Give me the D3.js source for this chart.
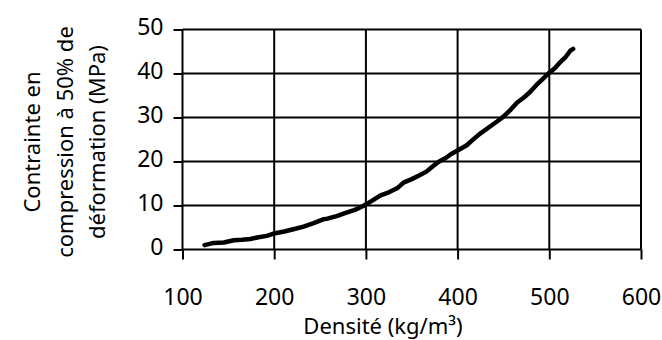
<!DOCTYPE html>
<html>
<head>
<meta charset="utf-8">
<script src="https://cdn.jsdelivr.net/npm/d3@7"></script>
<style>
  body { margin: 0; background: #fff; }
  svg text { font-family: "Noto Sans", sans-serif; fill: #000; }
</style>
</head>
<body>
<div id="chart"></div>
<script>
// données
var densite = [124, 134, 145, 156, 165, 174, 183, 192, 201, 211, 221, 232, 243, 254, 258, 268, 278, 288, 297, 306,
  316, 325, 334, 341, 350, 358, 366, 373, 379, 387, 393, 399, 410, 418, 425, 435, 443, 450, 458, 465,
  472, 479, 486, 493, 499, 506, 512, 518, 523, 526];
var contrainte = [1.0, 1.5, 1.6, 2.1, 2.2, 2.4, 2.8, 3.1, 3.7, 4.1, 4.6, 5.2, 6.0, 6.9, 7.0, 7.6, 8.3, 9.0, 9.9, 11.0,
  12.3, 13.0, 13.9, 15.2, 16.0, 16.8, 17.7, 18.9, 19.9, 20.8, 21.7, 22.4, 23.7, 25.2, 26.4, 27.9, 29.1, 30.2, 31.8, 33.4,
  34.5, 35.8, 37.4, 38.8, 40.0, 41.2, 42.6, 43.8, 45.2, 45.6];
var xTicks = [100, 200, 300, 400, 500, 600];
var yTicks = [0, 10, 20, 30, 40, 50];
var yTitle = ["Contrainte en", "compression à 50% de", "déformation (MPa)"];

var width = 662, height = 340;
var margin = { top: 29.5, right: 21, bottom: 90.5, left: 182.5 };

var svg = d3.select("#chart").append("svg")
  .attr("width", width)
  .attr("height", height);

var x = d3.scaleLinear().domain([100, 600]).range([margin.left, width - margin.right]);
var y = d3.scaleLinear().domain([0, 50]).range([height - margin.bottom, margin.top]);

// grille
svg.append("g").selectAll("line")
  .data(yTicks).enter().append("line")
  .attr("x1", x(100)).attr("x2", x(600))
  .attr("y1", function(d) { return y(d); }).attr("y2", function(d) { return y(d); })
  .attr("stroke", "#000").attr("stroke-width", 2);

svg.append("g").selectAll("line")
  .data(xTicks).enter().append("line")
  .attr("x1", function(d) { return x(d); }).attr("x2", function(d) { return x(d); })
  .attr("y1", y(50)).attr("y2", y(0))
  .attr("stroke", "#000").attr("stroke-width", 2);

// axe X
var gx = svg.append("g")
  .attr("transform", "translate(0," + y(0) + ")")
  .call(d3.axisBottom(x).tickValues(xTicks).tickSize(10).tickPadding(36).tickFormat(d3.format("d")));
gx.select(".domain").remove();
gx.selectAll("line").attr("stroke", "#000").attr("stroke-width", 2);
gx.selectAll("text").style("font-size", "23px").attr("dy", null).attr("y", 55);

// axe Y
var gy = svg.append("g")
  .attr("transform", "translate(" + x(100) + ",0)")
  .call(d3.axisLeft(y).tickValues(yTicks).tickSize(9).tickPadding(10).tickFormat(d3.format("d")));
gy.select(".domain").remove();
gy.selectAll("line").attr("stroke", "#000").attr("stroke-width", 2);
gy.selectAll("text").style("font-size", "23px").attr("dy", "5px").attr("x", -19);

// courbe
var line = d3.line()
  .x(function(d, i) { return x(densite[i]); })
  .y(function(d) { return y(d); });

svg.append("path")
  .datum(contrainte)
  .attr("d", line)
  .attr("fill", "none")
  .attr("stroke", "#000")
  .attr("stroke-width", 4.5)
  .attr("stroke-linejoin", "round")
  .attr("stroke-linecap", "round");

// titres
svg.append("text")
  .attr("x", 383)
  .attr("y", 334)
  .attr("text-anchor", "middle")
  .style("font-size", "22px")
  .text("Densité (kg/m³)");

svg.append("g").selectAll("text")
  .data(yTitle).enter().append("text")
  .attr("transform", function(d, i) { return "translate(" + (40 + i * 32.5) + ",142) rotate(-90)"; })
  .attr("text-anchor", "middle")
  .style("font-size", "22px")
  .text(function(d) { return d; });
</script>
</body>
</html>
